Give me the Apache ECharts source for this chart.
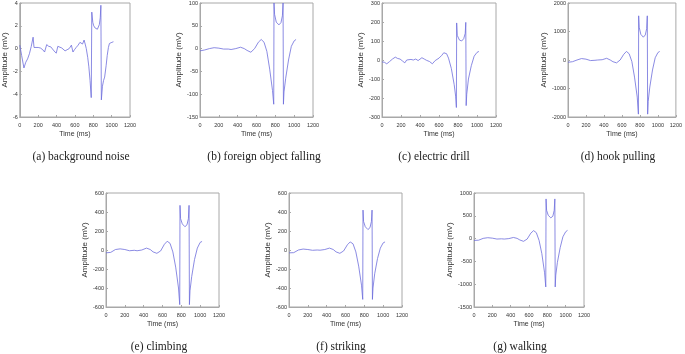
<!DOCTYPE html>
<html>
<head>
<meta charset="utf-8">
<script src="https://cdn.jsdelivr.net/npm/echarts@6/dist/echarts.min.js"></script>
<style>
html, body { margin: 0; padding: 0; background: #fff; }
#chart { width: 685px; height: 354px; }
</style>
</head>
<body>
<div id="chart"></div>
<script>
// time stamps (ms) used for the smooth recordings (b, d, e, f, g)
var tSmooth = [0, 50, 100, 150, 200, 250, 300, 330, 380, 430,
    470, 500, 540, 580, 620, 650, 680, 710, 740, 770,
    783, 786, 792, 810, 838, 860, 875, 882, 886, 892,
    910, 940, 970, 1000, 1020];

// (a) background noise
var tNoise = [0, 20, 45, 65, 85, 105, 125, 145, 155, 175,
    200, 225, 250, 270, 282, 293, 315, 338, 355, 372,
    397, 414, 435, 458, 475, 493, 515, 538, 550, 562,
    579, 595, 614, 635, 655, 683, 700, 712, 724, 740,
    752, 765, 778, 784, 795, 805, 821, 845, 866, 876,
    883, 888, 900, 912, 924, 940, 952, 965, 976, 990,
    1003, 1020];
var vNoise = [0.3, -0.6, -1.7, -1.2, -0.9, -0.45, 0.2, 1.0, 0.1, 0.15,
    0.1, 0.05, -0.1, -0.3, -0.4, 0.35, 0.2, 0.15, 0.0, -0.2,
    -0.4, 0.2, 0.15, 0.05, -0.05, -0.2, -0.1, 0.0, 0.1, 0.3,
    -0.3, -0.1, 0.1, 0.3, 0.55, 0.4, 0.75, 0.4, 0.0, -0.8,
    -1.6, -2.8, -4.3, 3.2, 2.3, 2.0, 1.8, 1.7, 2.1, 2.7,
    3.8, -4.5, -3.3, -2.8, -2.5, -1.5, -0.6, 0.1, 0.45, 0.5,
    0.55, 0.6];

// (c) electric drill
var tDrill = [0, 25, 50, 80, 110, 140, 165, 190, 215, 240,
    260, 280, 305, 330, 355, 380, 400, 420, 445, 470,
    500, 530, 560, 600, 630, 650, 680, 700, 730, 760,
    775, 783, 786, 792, 815, 838, 860, 876, 882, 886,
    892, 910, 940, 970, 1000, 1020];
var vDrill = [-10, -12, -20, -8, 5, 15, 8, 5, -5, -15,
    0, 10, 3, 0, 5, -3, -5, 12, 5, -2,
    -8, -20, -3, 10, 25, 38, 33, 10, -45, -130,
    -190, -250, 195, 130, 105, 100, 112, 140, 198, -240,
    -180, -100, -30, 20, 40, 45];

// (b) foreign object falling
var vFall = [-5, -3, 0, 2, 1, -1, -1, -2, 0, 3,
    0, -4, -8, 0, 14, 20, 14, -6, -45, -92,
    -122, 100, 75, 58, 52, 57, 72, 100, -122, -95,
    -65, -25, 5, 17, 20];
// (d) hook pulling
var vHook = [-80, -60, 0, 50, 30, -20, -10, 0, 10, 60,
    0, -60, -100, 0, 200, 300, 220, -50, -600, -1300,
    -1900, 1550, 1150, 900, 800, 880, 1100, 1550, -1900, -1450,
    -950, -350, 80, 260, 300];
// (e) climbing
var vClimb = [-30, -25, 5, 12, 5, -8, -3, -8, 0, 20,
    5, -20, -35, -10, 60, 92, 70, -20, -180, -400,
    -575, 470, 330, 275, 245, 265, 330, 470, -575, -430,
    -280, -100, 20, 80, 90];
// (f) striking
var vStrike = [-30, -28, 0, 10, 5, -3, 0, -2, 5, 20,
    5, -20, -35, -10, 55, 85, 65, -20, -170, -370,
    -520, 420, 300, 245, 215, 235, 300, 420, -520, -400,
    -250, -90, 20, 75, 85];
// (g) walking
var vWalk = [-40, -35, 5, 20, 10, -10, -5, -10, 0, 25,
    5, -30, -60, -10, 120, 175, 130, -40, -330, -750,
    -1060, 870, 620, 510, 455, 490, 620, 870, -1060, -800,
    -520, -200, 40, 150, 180];

var captions = ['(a) background noise', '(b) foreign object falling', '(c) electric drill',
    '(d) hook pulling', '(e) climbing', '(f) striking', '(g) walking'];
var yMins = [-6, -150, -300, -2000, -600, -600, -1500];
var yMaxs = [4, 100, 300, 2000, 600, 600, 1000];
var yIntervals = [2, 50, 100, 1000, 200, 200, 500];

var times = [tNoise, tSmooth, tDrill, tSmooth, tSmooth, tSmooth, tSmooth];
var values = [vNoise, vFall, vDrill, vHook, vClimb, vStrike, vWalk];

// layout of each panel: plot box, y name gap, caption centre
var layout = [
    { l: 14,  t: 2,   w: 116, h: 115, gap: 7,  cx: 81,  cy: 157 },
    { l: 200, t: 2,   w: 113, h: 115, gap: 14, cx: 264, cy: 157 },
    { l: 382, t: 2,   w: 114, h: 115, gap: 13, cx: 434, cy: 157 },
    { l: 568, t: 2,   w: 116, h: 115, gap: 17, cx: 618, cy: 157 },
    { l: 106, t: 193, w: 113, h: 114, gap: 15, cx: 159, cy: 347 },
    { l: 289, t: 193, w: 113, h: 114, gap: 15, cx: 341, cy: 347 },
    { l: 474, t: 193, w: 110, h: 114, gap: 17, cx: 520, cy: 347 }
];

var frame = '#a8a8a8';
var txt = '#333';
var lineColor = '#6d6ddc';

function plain(val) { return String(val); }

var grids = [], xAxes = [], yAxes = [], series = [], graphics = [];
layout.forEach(function (p, i) {
    grids.push({
        left: p.l, top: p.t, width: p.w, height: p.h,
        show: true, borderColor: frame, borderWidth: 1, backgroundColor: '#fff'
    });
    xAxes.push({
        type: 'value', gridIndex: i, min: 0, max: 1200, interval: 200,
        name: 'Time (ms)', nameLocation: 'middle', nameGap: 14,
        nameTextStyle: { fontSize: 7, color: txt, fontFamily: 'Liberation Sans' },
        axisLine: { show: true, onZero: false, lineStyle: { color: frame, width: 1 } },
        axisTick: { show: true, inside: true, length: 2, lineStyle: { color: frame } },
        axisLabel: { fontSize: 5.5, color: txt, margin: 5, fontFamily: 'Liberation Sans', formatter: plain },
        splitLine: { show: false }
    });
    yAxes.push({
        type: 'value', gridIndex: i, min: yMins[i], max: yMaxs[i], interval: yIntervals[i],
        name: 'Amplitude (mV)', nameLocation: 'middle', nameGap: p.gap, nameRotate: 90,
        nameTextStyle: { fontSize: 8, color: txt, fontFamily: 'Liberation Sans' },
        axisLine: { show: true, onZero: false, lineStyle: { color: frame, width: 1 } },
        axisTick: { show: true, inside: true, length: 2, lineStyle: { color: frame } },
        axisLabel: { fontSize: 5.5, color: txt, margin: 2, fontFamily: 'Liberation Sans', formatter: plain },
        splitLine: { show: false }
    });
    var t = times[i], v = values[i];
    series.push({
        type: 'line', xAxisIndex: i, yAxisIndex: i,
        data: t.map(function (x, k) { return [x, v[k]]; }),
        showSymbol: false, symbol: 'none', animation: false,
        lineStyle: { color: lineColor, width: 0.8 }
    });
    graphics.push({
        type: 'text', x: p.cx, y: p.cy,
        style: {
            text: captions[i], fill: '#222', textAlign: 'center', textVerticalAlign: 'middle',
            font: '11.5px "Liberation Serif"'
        }
    });
});

var chart = echarts.init(document.getElementById('chart'), null, { renderer: 'canvas' });
chart.setOption({
    animation: false,
    backgroundColor: '#fff',
    grid: grids,
    xAxis: xAxes,
    yAxis: yAxes,
    series: series,
    graphic: graphics
});
</script>
</body>
</html>
